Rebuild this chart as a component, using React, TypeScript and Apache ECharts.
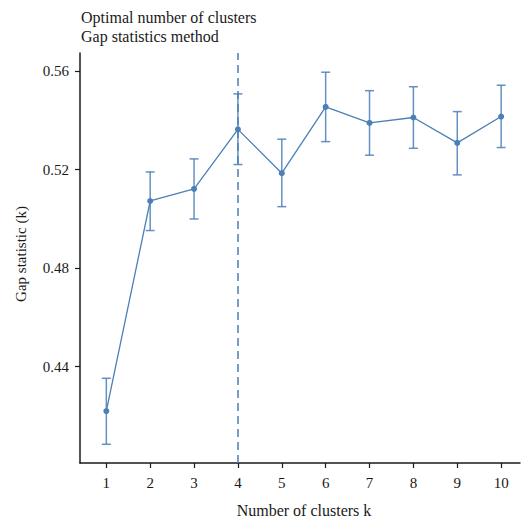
import React, { useEffect, useRef } from "react";
import * as echarts from "echarts";

const clusters = [1, 2, 3, 4, 5, 6, 7, 8, 9, 10];
const gapValues = [0.422, 0.5073, 0.5122, 0.5364, 0.5186, 0.5455, 0.539, 0.5412, 0.5309, 0.5416];
const gapLower = [0.4085, 0.4953, 0.5, 0.5221, 0.505, 0.5314, 0.5259, 0.5287, 0.5179, 0.529];
const gapUpper = [0.4353, 0.5191, 0.5244, 0.5508, 0.5324, 0.5596, 0.5521, 0.5537, 0.5436, 0.5543];
const yTicks = [0.44, 0.48, 0.52, 0.56];
const optimalK = 4;

const BLUE = "#4a7fb7";
const FONT = "Liberation Serif";

export default function App() {
  const ref = useRef<HTMLDivElement>(null);
  useEffect(() => {
    document.body.style.margin = "0";
    if (!ref.current) return;
    const chart = echarts.init(ref.current, null, { renderer: "svg" });
    const lineData = clusters.map((k, i) => [k, gapValues[i]]);
    const errData = clusters.map((k, i) => [k, gapLower[i], gapUpper[i]]);
    chart.setOption({
      animation: false,
      backgroundColor: "#ffffff",
      grid: { left: 80, top: 53, right: 1, bottom: 61, containLabel: false },
      graphic: [
        { type: "text", x: 81, y: 17, style: { text: "Optimal number of clusters", font: `16px ${FONT}`, fill: "#1a1a1a", verticalAlign: "middle" } },
        { type: "text", x: 81, y: 36, style: { text: "Gap statistics method", font: `16px ${FONT}`, fill: "#1a1a1a", verticalAlign: "middle" } },
        {
          type: "text",
          x: 21,
          y: 254,
          rotation: Math.PI / 2,
          style: { text: "Gap statistic (k)", font: `15px ${FONT}`, fill: "#1a1a1a", align: "center", verticalAlign: "middle" },
        },
        {
          type: "text",
          x: 304,
          y: 510,
          style: { text: "Number of clusters k", font: `16px ${FONT}`, fill: "#1a1a1a", align: "center", verticalAlign: "middle" },
        },
      ],
      xAxis: {
        type: "value",
        min: 0.4,
        max: 10.43,
        splitLine: { show: false },
        axisLine: { show: true, onZero: false, lineStyle: { color: "#1a1a1a", width: 1.5 } },
        axisTick: { show: true, length: 5, customValues: clusters, lineStyle: { color: "#1a1a1a", width: 1.2 } },
        axisLabel: { customValues: clusters, margin: 12, fontFamily: FONT, fontSize: 15, color: "#1a1a1a" },
      },
      yAxis: {
        type: "value",
        min: 0.4009,
        max: 0.5674,
        splitLine: { show: false },
        axisLine: { show: true, onZero: false, lineStyle: { color: "#1a1a1a", width: 1.5 } },
        axisTick: { show: true, length: 5, customValues: yTicks, lineStyle: { color: "#1a1a1a", width: 1.2 } },
        axisLabel: { customValues: yTicks, margin: 11, fontFamily: FONT, fontSize: 15, color: "#1a1a1a", formatter: (v: number) => v.toFixed(2) },
      },
      series: [
        {
          type: "custom",
          data: errData,
          z: 3,
          renderItem: (params: any, api: any) => {
            const x = api.value(0);
            const lo = api.coord([x, api.value(1)]);
            const hi = api.coord([x, api.value(2)]);
            const hw = 4.5;
            const st = { stroke: BLUE, lineWidth: 1.5, opacity: 0.85 };
            return {
              type: "group",
              children: [
                { type: "line", shape: { x1: lo[0], y1: lo[1], x2: hi[0], y2: hi[1] }, style: st },
                { type: "line", shape: { x1: lo[0] - hw, y1: lo[1], x2: lo[0] + hw, y2: lo[1] }, style: st },
                { type: "line", shape: { x1: hi[0] - hw, y1: hi[1], x2: hi[0] + hw, y2: hi[1] }, style: st },
              ],
            };
          },
        },
        {
          type: "line",
          data: lineData,
          z: 4,
          symbol: "circle",
          symbolSize: 6,
          itemStyle: { color: BLUE },
          lineStyle: { color: BLUE, width: 1.3 },
          markLine: {
            silent: true,
            symbol: "none",
            label: { show: false },
            lineStyle: { color: BLUE, width: 1.5, type: [8, 5] },
            data: [{ xAxis: optimalK }],
          },
        },
      ],
    });
    return () => chart.dispose();
  }, []);
  return <div ref={ref} style={{ width: 521, height: 524 }} />;
}
